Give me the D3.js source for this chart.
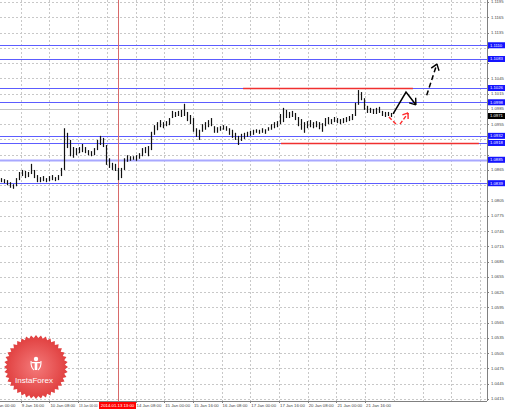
<!DOCTYPE html>
<html><head><meta charset="utf-8">
<script src="https://cdn.jsdelivr.net/npm/d3@7"></script>
<style>body{margin:0;background:#fff}svg{display:block}</style>
</head><body>
<svg id="c" width="510" height="409"></svg>
<script>
// ---- data ----
const barHigh = [1.0849,1.0847,1.0845,1.0841,1.0837,1.0849,1.0861,1.0865,1.0863,1.0861,
1.0877,1.0865,1.0855,1.0851,1.0853,1.0849,1.0853,1.0855,1.0851,1.0855,
1.0869,1.0947,1.0938,1.0924,1.0910,1.0908,1.0910,1.0916,1.0910,1.0904,
1.0902,1.0908,1.0924,1.0932,1.0928,1.0914,1.0888,1.0879,1.0877,1.0869,
1.0869,1.0888,1.0894,1.0892,1.0892,1.0894,1.0898,1.0908,1.0910,1.0912,
1.0940,1.0953,1.0959,1.0963,1.0959,1.0961,1.0967,1.0981,1.0979,1.0981,
1.0983,1.0995,1.0979,1.0973,1.0967,1.0947,1.0944,1.0955,1.0959,1.0963,
1.0967,1.0951,1.0949,1.0951,1.0953,1.0951,1.0947,1.0944,1.0938,1.0932,
1.0936,1.0938,1.0940,1.0942,1.0944,1.0945,1.0944,1.0947,1.0945,1.0949,
1.0955,1.0959,1.0961,1.0975,1.0987,1.0983,1.0979,1.0981,1.0977,1.0969,
1.0965,1.0959,1.0961,1.0963,1.0959,1.0961,1.0959,1.0957,1.0967,1.0969,
1.0965,1.0969,1.0967,1.0965,1.0967,1.0969,1.0971,1.0975,1.0997,1.1022,
1.1018,1.1006,1.0991,1.0987,1.0985,1.0987,1.0989,1.0981,1.0979,1.0979,1.0977];
const barLow = [1.0841,1.0839,1.0835,1.0830,1.0828,1.0833,1.0845,1.0853,1.0849,1.0851,
1.0857,1.0849,1.0841,1.0841,1.0843,1.0841,1.0843,1.0845,1.0843,1.0845,
1.0853,1.0865,1.0908,1.0892,1.0889,1.0894,1.0898,1.0900,1.0898,1.0894,
1.0892,1.0894,1.0904,1.0914,1.0910,1.0875,1.0869,1.0865,1.0863,1.0845,
1.0849,1.0865,1.0881,1.0883,1.0885,1.0883,1.0887,1.0892,1.0898,1.0892,
1.0904,1.0934,1.0943,1.0949,1.0947,1.0951,1.0953,1.0967,1.0969,1.0971,
1.0969,1.0971,1.0961,1.0955,1.0940,1.0930,1.0924,1.0940,1.0944,1.0949,
1.0951,1.0938,1.0938,1.0942,1.0944,1.0942,1.0934,1.0928,1.0924,1.0914,
1.0922,1.0926,1.0930,1.0932,1.0934,1.0938,1.0936,1.0938,1.0936,1.0942,
1.0944,1.0947,1.0949,1.0955,1.0959,1.0967,1.0967,1.0969,1.0963,1.0951,
1.0944,1.0938,1.0947,1.0949,1.0947,1.0949,1.0945,1.0940,1.0951,1.0955,
1.0955,1.0959,1.0957,1.0955,1.0957,1.0959,1.0961,1.0963,1.0971,1.0993,
1.1002,1.0983,1.0977,1.0977,1.0975,1.0975,1.0977,1.0971,1.0969,1.0971,1.0969];

const priceTicks = [1.0415,1.0445,1.0475,1.0505,1.0535,1.0565,1.0595,1.0625,1.0655,1.0685,
1.0715,1.0745,1.0775,1.0805,1.0835,1.0865,1.0895,1.0925,1.0955,1.0985,1.1015,1.1045,
1.1075,1.1105,1.1135,1.1165,1.1195];
const timeLabels = ["8 Jan 00:00","9 Jan 16:00","10 Jan 08:00","13 Jan 00:00","13 Jan 16:00",
"14 Jan 08:00","15 Jan 00:00","15 Jan 16:00","16 Jan 08:00","17 Jan 00:00","17 Jan 16:00",
"20 Jan 08:00","21 Jan 00:00","21 Jan 16:00"];
const extraGridCount = 4;

const blueLevels = [1.1110,1.1083,1.1026,1.0998,1.0932,1.0918,1.0885,1.0839];
const lightLevel = 1.0885;
const grayLevel = 1.0985;
const currentPrice = 1.0971;
const cursorIndex = 39;
const cursorLabel = "2014.01.13 13:00";
// red resistance/support segments: [price, fromIndex, toIndex]
const redLevels = [[1.1026, 80.7, 137.3],[1.0918, 93.3, 159.3]];
// forecast arrows, points as [barIndex, price]
const blackPath = [[130.7,1.0975],[135,1.1018],[138.3,1.0993]];
const blackDashed = [[141.9,1.1012],[145.3,1.1073]];
const redDashedA = [[129.3,1.0969],[132,1.0953]];
const redDashedB = [[133,1.0955],[135.7,1.0977]];

// ---- layout ----
const plotR=487, plotB=401;
const svg=d3.select("#c");
const x=d3.scaleLinear().domain([0,130]).range([1,391]);
const y=d3.scaleLinear().domain([1.0415,1.1195]).range([399,2]);
const tickStart=-3, tickStep=9.567;
const fmt=d3.format(".4f");
const font="Liberation Sans, Arial, sans-serif";

// grid
const gridG=svg.append("g");
priceTicks.forEach(v=>{
  gridG.append("line").attr("x1",0).attr("x2",plotR).attr("y1",Math.round(y(v))+0.5).attr("y2",Math.round(y(v))+0.5)
   .attr("stroke","#c8c8c8").attr("stroke-width",1).attr("stroke-dasharray","2,2");
});
const nGrid=timeLabels.length+extraGridCount;
for(let k=0;k<nGrid;k++){
  const xx=Math.round(x(tickStart+k*tickStep))+0.5;
  if(xx<0||xx>plotR) continue;
  gridG.append("line").attr("x1",xx).attr("x2",xx).attr("y1",0).attr("y2",plotB)
   .attr("stroke","#c8c8c8").attr("stroke-width",1).attr("stroke-dasharray","2,2");
}

// gray solid line
svg.append("line").attr("x1",0).attr("x2",plotR).attr("y1",Math.round(y(grayLevel))+0.5).attr("y2",Math.round(y(grayLevel))+0.5)
  .attr("stroke","#c4c4c4").attr("stroke-width",1);

// blue levels
svg.append("g").selectAll("line").data(blueLevels).join("line")
  .attr("x1",0).attr("x2",plotR).attr("y1",d=>Math.round(y(d))+0.5).attr("y2",d=>Math.round(y(d))+0.5)
  .attr("stroke",d=>d===lightLevel?"#a8a8ff":"#5c5cff")
  .attr("stroke-width",d=>d===lightLevel?2:1.2);

// red cursor line
svg.append("line").attr("x1",Math.round(x(cursorIndex))+0.5).attr("x2",Math.round(x(cursorIndex))+0.5)
  .attr("y1",0).attr("y2",plotB).attr("stroke","#d86a6a").attr("stroke-width",1);

// red levels
svg.append("g").selectAll("line").data(redLevels).join("line")
  .attr("x1",d=>x(d[1])).attr("x2",d=>x(d[2])).attr("y1",d=>Math.round(y(d[0]))+0.5).attr("y2",d=>Math.round(y(d[0]))+0.5)
  .attr("stroke","#f03030").attr("stroke-width",1.6);

// bars
svg.append("g").selectAll("line").data(barHigh).join("line")
  .attr("x1",(d,i)=>Math.round(x(i))+0.5).attr("x2",(d,i)=>Math.round(x(i))+0.5)
  .attr("y1",(d,i)=>y(d)).attr("y2",(d,i)=>y(barLow[i]))
  .attr("stroke","#111").attr("stroke-width",1.2);

// arrows
const line=d3.line().x(d=>x(d[0])).y(d=>y(d[1]));
function head(p,q,color,len){
  const x1=x(p[0]),y1=y(p[1]),x2=x(q[0]),y2=y(q[1]);
  const a=Math.atan2(y2-y1,x2-x1);
  [a+Math.PI*0.8,a-Math.PI*0.8].forEach(b=>{
    svg.append("line").attr("x1",x2).attr("y1",y2).attr("x2",x2+len*Math.cos(b)).attr("y2",y2+len*Math.sin(b))
      .attr("stroke",color).attr("stroke-width",1.4);
  });
}
svg.append("path").attr("d",line(blackPath)).attr("fill","none").attr("stroke","#000").attr("stroke-width",1.5);
head(blackPath[1],blackPath[2],"#000",7);
svg.append("path").attr("d",line(blackDashed)).attr("fill","none").attr("stroke","#000").attr("stroke-width",1.5).attr("stroke-dasharray","5,3");
head(blackDashed[0],blackDashed[1],"#000",7);
svg.append("path").attr("d",line(redDashedA)).attr("fill","none").attr("stroke","#ff2a2a").attr("stroke-width",1.4).attr("stroke-dasharray","4,2");
svg.append("path").attr("d",line(redDashedB)).attr("fill","none").attr("stroke","#ff2a2a").attr("stroke-width",1.4).attr("stroke-dasharray","4,2");
head(redDashedB[0],redDashedB[1],"#ff2a2a",6);

// logo
const defs=svg.append("defs");
const rg=defs.append("radialGradient").attr("id","lg");
rg.append("stop").attr("offset","0%").attr("stop-color","#f47a7a");
rg.append("stop").attr("offset","100%").attr("stop-color","#e03e3e");
const logo=svg.append("g").attr("transform","translate(36,367)");
const nT=40, pts=[];
for(let i=0;i<nT*2;i++){const r=i%2?29:32;const a=i*Math.PI/nT;pts.push([r*Math.sin(a),-r*Math.cos(a)]);}
logo.append("path").attr("d",d3.line()(pts)+"Z").attr("fill","url(#lg)");
const ic=logo.append("g").attr("fill","#fff");
ic.append("circle").attr("cx",0).attr("cy",-8).attr("r",2.2);
ic.append("path").attr("d","M-4.5,-5 L4.5,-5 L4.5,-3.8 L1.3,-3.8 L1.3,3 L-1.3,3 L-1.3,-3.8 L-4.5,-3.8 Z");
ic.append("path").attr("d","M-5.5,-6 Q-6,1 -2,3.5 L-2,2.3 Q-4.6,0.5 -4.4,-6 Z M5.5,-6 Q6,1 2,3.5 L2,2.3 Q4.6,0.5 4.4,-6 Z");
logo.append("text").attr("x",-2).attr("y",16).attr("text-anchor","middle").attr("fill","#fff")
  .attr("font-family",font).attr("font-size",8).text("InstaForex");

// axes frame
svg.append("line").attr("x1",0).attr("x2",plotR).attr("y1",plotB+0.5).attr("y2",plotB+0.5).attr("stroke","#808080");
svg.append("line").attr("x1",plotR+0.5).attr("x2",plotR+0.5).attr("y1",0).attr("y2",plotB).attr("stroke","#808080");

// price labels (hidden where a level box covers them)
const boxed=blueLevels.concat([currentPrice]);
const pl=svg.append("g").attr("font-family",font).attr("font-size",4.2).attr("fill","#444");
priceTicks.forEach(v=>{
  svg.append("line").attr("x1",plotR).attr("x2",plotR+2).attr("y1",Math.round(y(v))+0.5).attr("y2",Math.round(y(v))+0.5).attr("stroke","#808080");
  if(boxed.some(b=>Math.abs(y(b)-y(v))<5.5)) return;
  pl.append("text").attr("x",plotR+4).attr("y",y(v)).attr("dy","0.35em").text(fmt(v));
});
function box(v,fill){
  const yy=y(v);
  svg.append("rect").attr("x",plotR+1).attr("y",yy-3).attr("width",17).attr("height",6).attr("fill",fill);
  svg.append("text").attr("x",plotR+3).attr("y",yy).attr("dy","0.35em").attr("font-family",font)
    .attr("font-size",4.2).attr("fill","#fff").text(fmt(v));
}
blueLevels.forEach(v=>box(v,"#1414ff"));
box(currentPrice,"#000");

// time labels (the one under the cursor label is hidden, the one before it shrunk to fit)
const cx=x(cursorIndex);
const boxL=cx-19, boxR=cx+18;
const tl=svg.append("g").attr("font-family",font).attr("font-size",4.3).attr("fill","#444");
timeLabels.forEach((t,k)=>{
  const xx=x(tickStart+k*tickStep);
  svg.append("line").attr("x1",Math.round(xx)+0.5).attr("x2",Math.round(xx)+0.5).attr("y1",plotB).attr("y2",plotB+2).attr("stroke","#808080");
  if(xx>boxL+2 && xx<boxR-4) return;
  const txt=tl.append("text").attr("x",xx+1).attr("y",plotB+6).text(t);
  const w=txt.node().getComputedTextLength();
  const avail=boxL-xx-2.5;
  if(xx<boxL && w>avail) txt.attr("font-size",4.3*avail/w);
});
svg.append("rect").attr("x",boxL).attr("y",plotB+1).attr("width",37).attr("height",7).attr("fill","#ff0000");
svg.append("text").attr("x",cx-0.5).attr("y",plotB+6).attr("text-anchor","middle").attr("font-family",font)
  .attr("font-size",4.3).attr("fill","#fff").text(cursorLabel);
</script>
</body></html>
